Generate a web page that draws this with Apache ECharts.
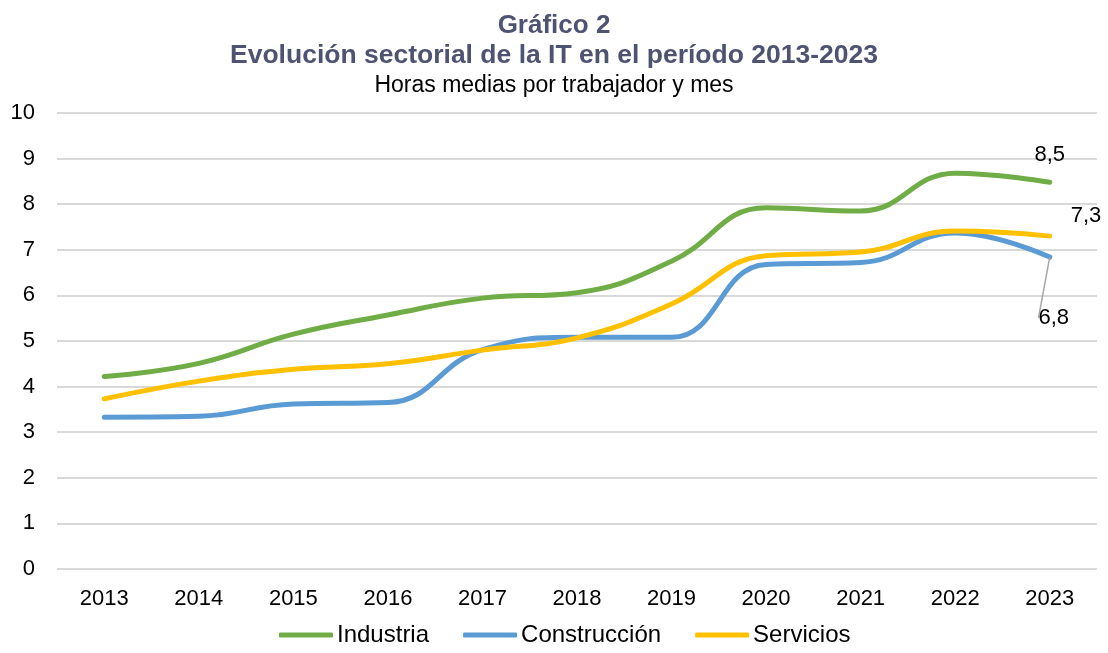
<!DOCTYPE html>
<html>
<head>
<meta charset="utf-8">
<script src="https://cdn.jsdelivr.net/npm/echarts@6/dist/echarts.min.js"></script>
<style>
html, body { margin: 0; padding: 0; background: #fff; }
#chart { width: 1108px; height: 653px; }
</style>
</head>
<body>
<div id="chart"></div>
<script>
// datos
const years = ['2013', '2014', '2015', '2016', '2017', '2018', '2019', '2020', '2021', '2022', '2023'];
const industria = [4.22, 4.51, 5.15, 5.57, 5.94, 6.06, 6.75, 7.92, 7.85, 8.68, 8.48];
const construccion = [3.33, 3.35, 3.62, 3.65, 4.81, 5.08, 5.08, 6.68, 6.72, 7.37, 6.84];
const servicios = [3.73, 4.12, 4.38, 4.5, 4.8, 5.07, 5.81, 6.87, 6.95, 7.41, 7.3];
const lastLabels = ['8,5', '6,8', '7,3'];

const chart = echarts.init(document.getElementById('chart'));
const font = 'Liberation Sans, Arial, sans-serif';
const last = years.length - 1;

function lineSeries(name, data, color, labelText, labelCfg, guide) {
    return {
        name: name,
        type: 'line',
        data: data.map((v, i) => {
            if (i !== last) return v;
            return {
                value: v,
                label: Object.assign({
                    show: true,
                    formatter: labelText,
                    color: '#000',
                    fontFamily: font,
                    fontSize: 22
                }, labelCfg)
            };
        }),
        smooth: 0.45,
        symbol: 'circle',
        symbolSize: 0,
        showAllSymbol: true,
        lineStyle: { color: color, width: 5, cap: 'round' },
        itemStyle: { color: color },
        labelLine: { show: !!guide, lineStyle: { color: '#a6a6a6', width: 1.5 } }
    };
}

const option = {
    animation: false,
    title: [
        { text: 'Gráfico 2', left: 'center', top: 8,
          textStyle: { fontFamily: font, fontSize: 26, fontWeight: 'bold', color: '#4e5372' } },
        { text: 'Evolución sectorial de la IT en el período 2013-2023', left: 'center', top: 37,
          textStyle: { fontFamily: font, fontSize: 26.5, fontWeight: 'bold', color: '#4e5372' } },
        { text: 'Horas medias por trabajador y mes', left: 'center', top: 69,
          textStyle: { fontFamily: font, fontSize: 23, fontWeight: 'normal', color: '#000' } }
    ],
    grid: { left: 57, right: 11, top: 113, bottom: 84 },
    legend: {
        bottom: 1,
        left: 274,
        icon: 'roundRect',
        itemWidth: 54,
        itemHeight: 5,
        itemGap: 34,
        textStyle: { fontFamily: font, fontSize: 24, color: '#000', padding: [0, 0, 0, -1] },
        data: ['Industria', 'Construcción', 'Servicios']
    },
    xAxis: {
        type: 'category',
        data: years,
        boundaryGap: true,
        axisLine: { show: false },
        axisTick: { show: false },
        axisLabel: { fontFamily: font, fontSize: 22, color: '#000', margin: 19 }
    },
    yAxis: {
        type: 'value',
        min: 0,
        max: 10,
        interval: 1,
        axisLabel: { fontFamily: font, fontSize: 22, color: '#000', margin: 22 },
        splitLine: { lineStyle: { color: '#d9d9d9', width: 2 } }
    },
    labelLayout: function (params) {
        // Construcción: abajo con línea guía; Servicios: arriba a la derecha
        if (params.seriesIndex === 1) {
            return { dx: 4, dy: 40 };
        }
        if (params.seriesIndex === 2) {
            return { dx: 16, dy: -20 };
        }
    },
    series: [
        lineSeries('Industria', industria, '#70ad47', lastLabels[0], { position: 'top', distance: 16 }, false),
        lineSeries('Construcción', construccion, '#5b9bd5', lastLabels[1], { position: 'bottom', distance: 10 }, true),
        lineSeries('Servicios', servicios, '#ffc000', lastLabels[2], { position: 'right', distance: 5 }, false)
    ]
};
chart.setOption(option);
</script>
</body>
</html>
